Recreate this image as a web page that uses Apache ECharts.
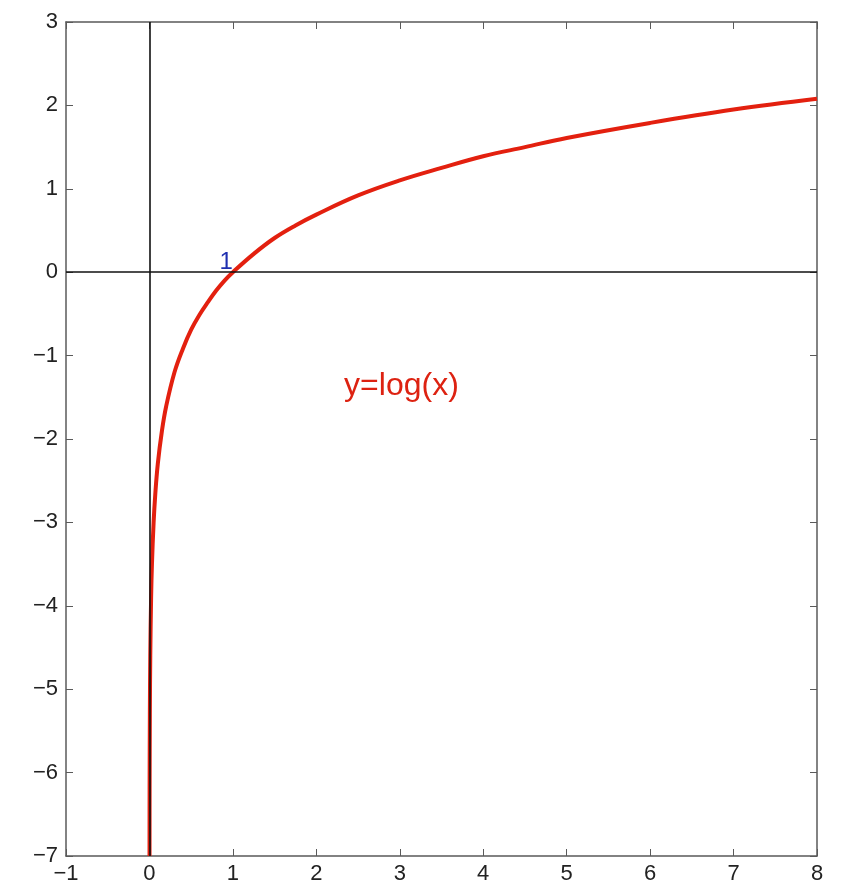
<!DOCTYPE html>
<html>
<head>
<meta charset="utf-8">
<script src="https://cdn.jsdelivr.net/npm/echarts@6/dist/echarts.min.js"></script>
<style>
  html, body { margin: 0; padding: 0; background: #fff; }
  #chart { width: 843px; height: 889px; }
</style>
</head>
<body>
<div id="chart"></div>
<script>
'use strict';
// values
const xValues = [0.0009, 0.002, 0.005, 0.01, 0.02, 0.03, 0.05, 0.07, 0.1, 0.15, 0.2, 0.3, 0.4, 0.5, 0.6, 0.7, 0.8, 0.9, 1,
    1.25, 1.5, 1.75, 2, 2.5, 3, 3.5, 4, 4.5, 5, 6, 7, 8];
const yValues = [-7.0, -6.2, -5.3, -4.6, -3.9, -3.5, -3.0, -2.66, -2.3, -1.9, -1.61, -1.2, -0.92, -0.69, -0.51, -0.36, -0.22, -0.1, 0,
    0.22, 0.41, 0.56, 0.69, 0.92, 1.1, 1.25, 1.39, 1.5, 1.61, 1.79, 1.95, 2.08];
const xTicks = [-1, 0, 1, 2, 3, 4, 5, 6, 7, 8];
const yTicks = [-7, -6, -5, -4, -3, -2, -1, 0, 1, 2, 3];
const curveLabel = 'y=log(x)';
const rootLabel = '1';

{
    let dom = document.getElementById('chart');
    let myChart = echarts.init(dom);
    let curve = xValues.map((x, i) => [x, yValues[i]]);
    let fmt = function (v) {
        return String(v).replace('-', '\u2212');
    };
    let frameColor = '#5a5a5a';
    let tickFont = {
        fontSize: 22,
        color: '#222',
        fontFamily: 'Liberation Sans, Arial, sans-serif'
    };

    let baseX = {
        type: 'value',
        min: xTicks[0],
        max: xTicks[xTicks.length - 1],
        interval: 1,
        splitLine: { show: false },
        axisLine: { show: true, onZero: false, lineStyle: { color: frameColor, width: 1.5 } },
        axisTick: { show: true, inside: true, length: 7, lineStyle: { color: frameColor } }
    };
    let baseY = {
        type: 'value',
        min: yTicks[0],
        max: yTicks[yTicks.length - 1],
        interval: 1,
        splitLine: { show: false },
        axisLine: { show: true, onZero: false, lineStyle: { color: frameColor, width: 1.5 } },
        axisTick: { show: true, inside: true, length: 7, lineStyle: { color: frameColor } }
    };

    let option = {
        animation: false,
        backgroundColor: '#fff',
        grid: { left: 66, right: 26, top: 22, bottom: 33 },
        xAxis: [
            Object.assign({}, baseX, {
                position: 'bottom',
                axisLabel: Object.assign({ margin: 7, formatter: fmt }, tickFont)
            }),
            Object.assign({}, baseX, { position: 'top', axisLabel: { show: false } })
        ],
        yAxis: [
            Object.assign({}, baseY, {
                position: 'left',
                axisLabel: Object.assign({ margin: 8, formatter: fmt }, tickFont)
            }),
            Object.assign({}, baseY, { position: 'right', axisLabel: { show: false } })
        ],
        series: [
            {
                name: 'axes',
                type: 'line',
                data: [],
                z: 1,
                markLine: {
                    silent: true,
                    symbol: 'none',
                    label: { show: false },
                    lineStyle: { color: '#111', width: 1.6, type: 'solid' },
                    data: [{ xAxis: 0 }, { yAxis: 0 }]
                }
            },
            {
                name: 'log',
                type: 'line',
                data: curve,
                z: 3,
                showSymbol: false,
                smooth: 0.4,
                lineStyle: { color: '#e3200f', width: 4 }
            }
        ],
        graphic: []
    };

    myChart.setOption(option);

    // text labels placed at data coordinates
    let p1 = myChart.convertToPixel({ xAxisIndex: 0, yAxisIndex: 0 }, [0.92, 0.12]);
    let p2 = myChart.convertToPixel({ xAxisIndex: 0, yAxisIndex: 0 }, [3.02, -1.37]);
    myChart.setOption({
        graphic: [
            {
                type: 'text',
                x: p1[0], y: p1[1],
                style: {
                    text: rootLabel,
                    fill: '#1f2fb0',
                    font: '24px Liberation Sans, Arial, sans-serif',
                    align: 'center',
                    verticalAlign: 'middle'
                }
            },
            {
                type: 'text',
                x: p2[0], y: p2[1],
                style: {
                    text: curveLabel,
                    fill: '#dd2211',
                    font: '32px Liberation Sans, Arial, sans-serif',
                    align: 'center',
                    verticalAlign: 'middle'
                }
            }
        ]
    });
}
</script>
</body>
</html>
